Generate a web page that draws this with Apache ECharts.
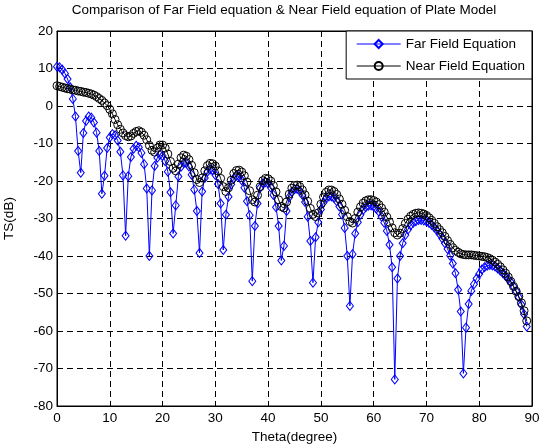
<!DOCTYPE html>
<html><head><meta charset="utf-8">
<script src="https://cdn.jsdelivr.net/npm/echarts@6/dist/echarts.min.js"></script>
<style>html,body{margin:0;padding:0;background:#fff}#c{width:541px;height:448px}</style>
</head><body><div id="c"></div>
<script>
// ---- data ----
const theta = [0,0.5,1,1.5,2,2.5,3,3.5,4,4.5,5,5.5,6,6.5,7,7.5,8,8.5,9,9.5,
10,10.5,11,11.5,12,12.5,13,13.5,14,14.5,15,15.5,16,16.5,17,17.5,18,18.5,19,19.5,
20,20.5,21,21.5,22,22.5,23,23.5,24,24.5,25,25.5,26,26.5,27,27.5,28,28.5,29,29.5,
30,30.5,31,31.5,32,32.5,33,33.5,34,34.5,35,35.5,36,36.5,37,37.5,38,38.5,39,39.5,
40,40.5,41,41.5,42,42.5,43,43.5,44,44.5,45,45.5,46,46.5,47,47.5,48,48.5,49,49.5,
50,50.5,51,51.5,52,52.5,53,53.5,54,54.5,55,55.5,56,56.5,57,57.5,58,58.5,59,59.5,
60,60.5,61,61.5,62,62.5,63,63.5,64,64.5,65,65.5,66,66.5,67,67.5,68,68.5,69,69.5,
70,70.5,71,71.5,72,72.5,73,73.5,74,74.5,75,75.5,76,76.5,77,77.5,78,78.5,79,79.5,
80,80.5,81,81.5,82,82.5,83,83.5,84,84.5,85,85.5,86,86.5,87,87.5,88,88.5,89];

const farField = [10.5,10.3,9.7,8.7,7.2,5.0,1.9,-2.8,-12.0,-17.8,
-7.2,-4.0,-2.8,-3.1,-4.4,-7.1,-12.0,-23.4,-18.6,-11.2,
-8.4,-7.5,-7.8,-9.2,-12.2,-18.5,-34.6,-18.7,-13.6,-11.4,
-10.6,-11.0,-12.5,-15.5,-22.0,-40.0,-22.5,-16.0,-13.8,-13.0,
-13.3,-14.7,-17.5,-23.0,-34.0,-26.5,-18.8,-16.2,-15.2,-15.2,
-16.1,-18.3,-22.3,-28.0,-39.2,-22.8,-19.2,-17.5,-16.9,-17.2,
-18.4,-20.8,-26.0,-38.4,-29.0,-24.2,-20.9,-19.3,-18.6,-18.8,
-19.8,-21.8,-25.4,-29.1,-46.7,-32.0,-26.0,-21.8,-20.6,-20.3,
-20.6,-21.7,-23.7,-27.0,-32.0,-41.2,-37.3,-28.0,-24.3,-22.9,
-22.2,-22.1,-22.6,-23.7,-25.6,-29.5,-36.0,-47.1,-35.0,-31.0,
-27.6,-25.7,-24.6,-24.1,-24.1,-24.5,-25.4,-26.8,-28.9,-32.5,
-40.0,-53.3,-39.5,-34.0,-31.0,-29.0,-27.7,-27.0,-26.6,-26.5,
-26.8,-27.4,-28.2,-29.5,-31.1,-33.3,-37.0,-43.0,-72.9,-46.0,
-40.0,-36.6,-34.4,-32.9,-31.8,-31.1,-30.7,-30.4,-30.4,-30.5,
-30.8,-31.2,-31.7,-32.4,-33.2,-34.2,-35.3,-36.6,-38.1,-39.9,
-42.0,-44.6,-49.0,-54.8,-71.3,-59.1,-52.8,-49.3,-47.5,-46.0,
-44.8,-43.6,-43.0,-42.6,-42.4,-42.5,-42.8,-43.3,-43.9,-44.6,
-45.3,-46.1,-47.0,-48.1,-49.4,-51.0,-53.0,-55.5,-58.8];

const nearField = [5.4,5.2,5.0,4.8,4.6,4.5,4.3,4.2,4.0,3.9,
3.7,3.6,3.4,3.2,2.9,2.5,2.0,1.5,0.8,0.1,
-0.9,-2.1,-3.6,-5.0,-6.2,-7.2,-7.9,-8.2,-8.0,-7.3,
-6.8,-6.6,-7.0,-7.8,-9.0,-10.5,-11.8,-12.3,-11.2,-10.4,
-10.4,-11.2,-12.8,-14.8,-16.6,-17.3,-15.5,-13.8,-13.1,-13.4,
-14.3,-15.8,-17.8,-19.6,-20.4,-19.2,-17.3,-15.9,-15.3,-15.4,
-16.0,-17.3,-19.3,-21.5,-22.8,-21.8,-19.8,-18.0,-17.2,-17.1,
-17.6,-18.6,-20.3,-22.6,-25.0,-25.6,-23.8,-21.5,-19.9,-19.3,
-19.4,-20.0,-21.2,-22.9,-25.0,-26.8,-27.2,-25.6,-23.5,-21.9,
-21.2,-21.1,-21.5,-22.4,-23.7,-25.4,-27.3,-28.9,-29.5,-28.5,
-26.2,-24.3,-23.0,-22.4,-22.4,-22.8,-23.6,-24.8,-26.2,-27.8,
-29.5,-30.8,-31.2,-30.0,-28.3,-26.9,-25.9,-25.3,-25.0,-25.0,
-25.2,-25.6,-26.3,-27.2,-28.3,-29.6,-31.0,-32.5,-33.8,-34.4,
-33.9,-32.7,-31.3,-30.2,-29.4,-28.9,-28.6,-28.5,-28.6,-28.8,
-29.2,-29.8,-30.5,-31.3,-32.2,-33.0,-33.8,-34.8,-35.9,-36.9,
-37.8,-38.5,-39.0,-39.4,-39.6,-39.7,-39.7,-39.7,-39.8,-39.9,
-40.0,-40.1,-40.2,-40.4,-40.7,-41.1,-41.6,-42.2,-42.9,-43.7,
-44.6,-45.6,-46.8,-48.1,-49.4,-50.8,-52.5,-54.6,-57.3];

const seriesNames = ['Far Field Equation', 'Near Field Equation'];
const xTickValues = [0,10,20,30,40,50,60,70,80,90];
const yTickValues = [-80,-70,-60,-50,-40,-30,-20,-10,0,10,20];
const titleText = 'Comparison of Far Field equation & Near Field equation of Plate Model';
const xName = 'Theta(degree)';
const yName = 'TS(dB)';

// ---- chart ----
const FONT = '"Liberation Sans", Arial, sans-serif';
const FS = 13.5;
const chart = echarts.init(document.getElementById('c'), null, {renderer: 'canvas'});
const ffData = theta.map((t, i) => [t, farField[i]]);
const nfData = theta.map((t, i) => [t, nearField[i]]);
const xMin = xTickValues[0], xMax = xTickValues[xTickValues.length - 1];
const yMin = yTickValues[0], yMax = yTickValues[yTickValues.length - 1];

const dash = {show: true, lineStyle: {color: '#000', width: 1, type: [6, 4]}};
chart.setOption({
  animation: false,
  backgroundColor: '#fff',
  textStyle: {fontFamily: FONT},
  title: {
    text: titleText, left: 284, top: 3, padding: 0, textAlign: 'center',
    textStyle: {fontSize: FS, fontWeight: 'normal', color: '#000', fontFamily: FONT}
  },
  grid: {left: 57, right: 9, top: 31, bottom: 42, show: true, borderColor: '#000', borderWidth: 1,
    backgroundColor: 'transparent', containLabel: false, outerBoundsMode: 'none'},
  legend: {
    data: seriesNames, orient: 'vertical', right: 9, top: 31,
    backgroundColor: '#fff', borderColor: '#000', borderWidth: 1, borderRadius: 0,
    padding: [6, 7, 6, 10], itemGap: 8, itemWidth: 44, itemHeight: 10,
    lineStyle: {width: 1},
    textStyle: {fontSize: FS, color: '#000', fontFamily: FONT}
  },
  xAxis: [{
    type: 'value', min: xMin, max: xMax, interval: 10, position: 'bottom',
    name: xName, nameLocation: 'middle', nameGap: 23,
    nameTextStyle: {fontSize: FS, color: '#000', fontFamily: FONT},
    axisLine: {onZero: false, lineStyle: {color: '#000'}},
    axisTick: {inside: true, length: 5, lineStyle: {color: '#000'}},
    axisLabel: {color: '#000', fontSize: FS, margin: 5, fontFamily: FONT},
    splitLine: dash
  }, {
    type: 'value', min: xMin, max: xMax, interval: 10, position: 'top',
    axisLine: {onZero: false, lineStyle: {color: '#000'}},
    axisTick: {inside: true, length: 5, lineStyle: {color: '#000'}},
    axisLabel: {show: false}, splitLine: {show: false}
  }],
  yAxis: [{
    type: 'value', min: yMin, max: yMax, interval: 10, position: 'left',
    name: yName, nameLocation: 'middle', nameGap: 41, nameRotate: 90,
    nameTextStyle: {fontSize: FS, color: '#000', fontFamily: FONT},
    axisLine: {onZero: false, lineStyle: {color: '#000'}},
    axisTick: {inside: true, length: 5, lineStyle: {color: '#000'}},
    axisLabel: {color: '#000', fontSize: FS, margin: 4, fontFamily: FONT},
    splitLine: dash
  }, {
    type: 'value', min: yMin, max: yMax, interval: 10, position: 'right',
    axisLine: {onZero: false, lineStyle: {color: '#000'}},
    axisTick: {inside: true, length: 5, lineStyle: {color: '#000'}},
    axisLabel: {show: false}, splitLine: {show: false}
  }],
  series: [{
    name: seriesNames[0], type: 'line', data: ffData, xAxisIndex: 0, yAxisIndex: 0,
    symbol: 'diamond', symbolSize: [7, 9], showSymbol: true, showAllSymbol: true,
    lineStyle: {color: '#0000ff', width: 1},
    itemStyle: {color: 'rgba(255,255,255,0)', borderColor: '#0000ff', borderWidth: 1},
    emphasis: {disabled: true}, z: 2
  }, {
    name: seriesNames[1], type: 'line', data: nfData, xAxisIndex: 0, yAxisIndex: 0,
    symbol: 'circle', symbolSize: 8, showSymbol: true, showAllSymbol: true,
    lineStyle: {color: '#000', width: 1},
    itemStyle: {color: 'rgba(255,255,255,0)', borderColor: '#000', borderWidth: 1},
    emphasis: {disabled: true}, z: 3
  }]
});
</script>
</body></html>
